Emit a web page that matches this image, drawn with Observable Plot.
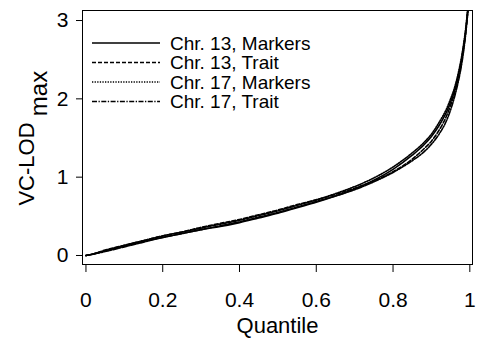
<!DOCTYPE html>
<html><head><meta charset="utf-8">
<script src="https://cdn.jsdelivr.net/npm/d3@7"></script>
<script src="https://cdn.jsdelivr.net/npm/@observablehq/plot@0.6"></script>
<style>
body{margin:0;background:#fff}
#chart{position:relative;width:489px;height:339px}
</style>
</head><body><div id="chart"></div>
<script>
const quantiles = [0, 0.02, 0.05, 0.1, 0.15, 0.2, 0.25, 0.3, 0.35, 0.4, 0.45, 0.5, 0.55, 0.6, 0.65, 0.7, 0.75, 0.8, 0.85, 0.88, 0.9, 0.92, 0.94, 0.95, 0.96, 0.97, 0.98, 0.99, 0.995, 1];
const seriesNames = ["Chr. 13, Markers", "Chr. 13, Trait", "Chr. 17, Markers", "Chr. 17, Trait"];
const chr13Markers = [0, 0.02, 0.06, 0.12, 0.18, 0.23, 0.28, 0.33, 0.37, 0.42, 0.48, 0.54, 0.61, 0.68, 0.76, 0.85, 0.96, 1.10, 1.28, 1.41, 1.52, 1.66, 1.84, 1.96, 2.10, 2.30, 2.55, 2.90, 3.15, 3.4];
const chr13Trait   = [0, 0.02, 0.07, 0.13, 0.19, 0.25, 0.30, 0.36, 0.41, 0.46, 0.52, 0.58, 0.65, 0.71, 0.78, 0.86, 0.95, 1.07, 1.23, 1.36, 1.46, 1.60, 1.79, 1.92, 2.07, 2.27, 2.52, 2.88, 3.12, 3.4];
const chr17Markers = [0, 0.02, 0.06, 0.13, 0.19, 0.25, 0.30, 0.35, 0.40, 0.45, 0.51, 0.57, 0.64, 0.71, 0.79, 0.88, 0.99, 1.13, 1.31, 1.44, 1.55, 1.70, 1.88, 2.00, 2.14, 2.33, 2.58, 2.93, 3.17, 3.4];
const chr17Trait   = [0, 0.02, 0.05, 0.11, 0.17, 0.23, 0.28, 0.33, 0.38, 0.43, 0.49, 0.55, 0.62, 0.69, 0.76, 0.84, 0.94, 1.06, 1.21, 1.32, 1.42, 1.55, 1.73, 1.86, 2.02, 2.22, 2.48, 2.86, 3.12, 3.4];
const seriesValues = [chr13Markers, chr13Trait, chr17Markers, chr17Trait];
const dashes = ["none", "4,2", "1.3,1.3", "5,1.5,1.3,1.5"];
const xTicks = [0, 0.2, 0.4, 0.6, 0.8, 1];
const xTickLabels = ["0", "0.2", "0.4", "0.6", "0.8", "1"];
const yTicks = [0, 1, 2, 3];
const yTickLabels = ["0", "1", "2", "3"];
const xLabel = "Quantile";
const yLabelMain = "VC-LOD";
const yLabelSub = "max";

const FONT = "'Liberation Sans', Arial, Helvetica, sans-serif";

const lineMarks = seriesNames.map((name, i) => {
  const rows = quantiles.map((q, j) => ({series: name, q, v: seriesValues[i][j]}));
  return Plot.line(rows, {x: "q", y: "v", stroke: "black", strokeWidth: 1.6,
    strokeDasharray: dashes[i], curve: "monotone-x", clip: true});
});

const plot = Plot.plot({
  width: 489, height: 339,
  marginLeft: 82, marginRight: 17, marginTop: 10, marginBottom: 75,
  style: {fontFamily: FONT, background: "white", color: "black", overflow: "visible"},
  x: {domain: [-0.009, 1.007]},
  y: {domain: [-0.115, 3.128]},
  marks: [
    ...lineMarks,
    Plot.frame({stroke: "black", strokeWidth: 1}),
    Plot.axisX(xTicks, {tickSize: 8, tickPadding: 20, fontSize: 21, label: null,
      tickFormat: d => xTickLabels[xTicks.indexOf(d)]}),
    Plot.axisY(yTicks, {tickSize: 6, tickPadding: 8, fontSize: 21, label: null,
      tickFormat: d => yTickLabels[yTicks.indexOf(d)]}),
    Plot.text([xLabel], {frameAnchor: "bottom", lineAnchor: "top", dy: 53, fontSize: 22}),
    Plot.text([yLabelMain], {frameAnchor: "left", rotate: -90, textAnchor: "middle", lineAnchor: "middle", dx: -55.5, dy: 26.5, fontSize: 22}),
    Plot.text([yLabelSub], {frameAnchor: "left", rotate: -90, textAnchor: "middle", lineAnchor: "middle", dx: -43, dy: -44, fontSize: 24})
  ]
});
document.getElementById("chart").appendChild(plot);

// legend (inside top-left of frame)
const svg = d3.select(plot);
const lg = svg.append("g").attr("font-family", FONT).attr("font-size", 19).attr("text-anchor", "start");
seriesNames.forEach((name, i) => {
  const base = 49.5 + i * 19.5;
  lg.append("line").attr("x1", 92).attr("x2", 160).attr("y1", base - 6.5).attr("y2", base - 6.5)
    .attr("stroke", "black").attr("stroke-width", 1.4).attr("stroke-dasharray", dashes[i]);
  lg.append("text").attr("x", 170).attr("y", base).attr("fill", "black").attr("text-anchor", "start").text(name);
});
</script>
</body></html>
